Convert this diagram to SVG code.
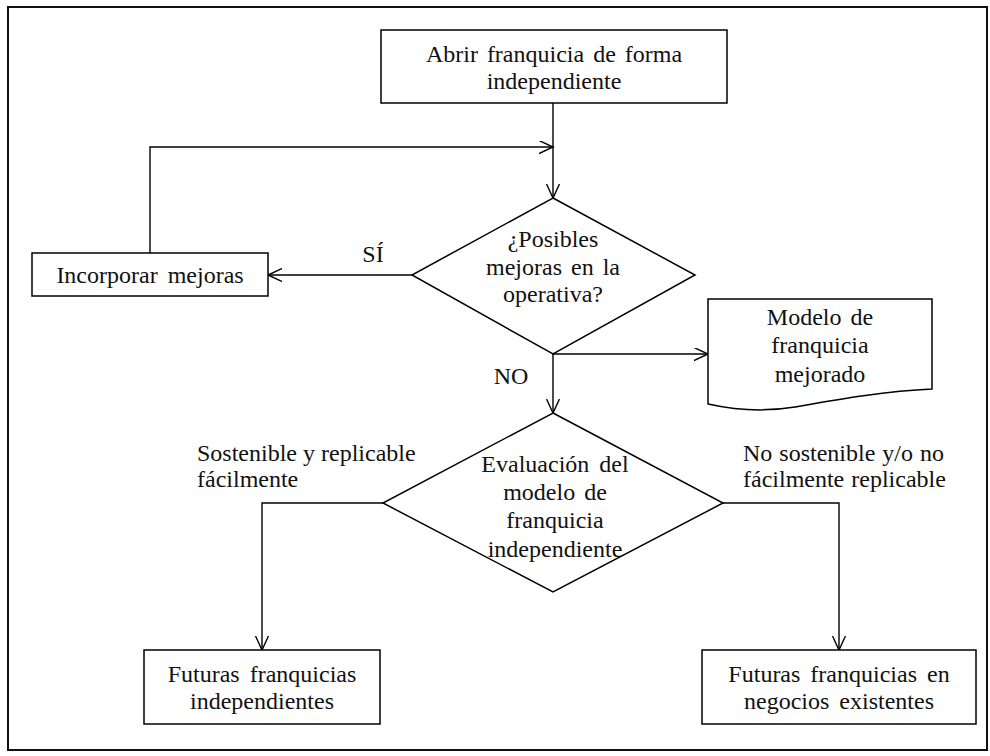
<svg xmlns="http://www.w3.org/2000/svg" width="990" height="756" viewBox="0 0 990 756">
  <style>
    .shape { fill: #ffffff; stroke: #000000; stroke-width: 1.5; }
    .arrow { fill: none; stroke: #000000; stroke-width: 1.4; marker-end: url(#open); }
    .t { font-family: 'Liberation Serif', 'Times New Roman', Times, serif; font-size: 24px; fill: #111111; }
    .c { text-anchor: middle; }
  </style>
  <defs>
    <marker id="open" markerUnits="userSpaceOnUse" markerWidth="16" markerHeight="14" refX="14" refY="6.5" orient="auto">
      <path d="M0,0 L14,6.5 L0,13" fill="none" stroke="#000000" stroke-width="1.4"/>
    </marker>
  </defs>

  <rect width="990" height="756" fill="#ffffff"/>
  <!-- page frame -->
  <rect x="8" y="7" width="979" height="743" fill="none" stroke="#111111" stroke-width="2"/>

  <!-- connectors -->
  <g id="connectors">
    <path class="arrow" d="M553,103 V198"/>
    <path class="arrow" d="M150,253 V147 H553"/>
    <path class="arrow" d="M412,275 H268"/>
    <path class="arrow" d="M553,354 H708"/>
    <path class="arrow" d="M553,354 V413"/>
    <path class="arrow" d="M383,503 H262 V650"/>
    <path class="arrow" d="M723,503 H839 V650"/>
  </g>

  <g font-family="Liberation Serif, Times New Roman, serif" class="t">
    <g id="start">
      <rect class="shape" x="381" y="30" width="346" height="73"/>
      <text class="t c" x="554" y="62" word-spacing="3">Abrir franquicia de forma</text>
      <text class="t c" x="554" y="89">independiente</text>
    </g>

    <g id="decision-mejoras">
      <polygon class="shape" points="553,198 695,275 553,354 412,275"/>
      <text class="t c" x="553" y="247">¿Posibles</text>
      <text class="t c" x="553" y="275" word-spacing="3">mejoras en la</text>
      <text class="t c" x="553" y="302">operativa?</text>
    </g>

    <g id="incorporar">
      <rect class="shape" x="32" y="253" width="236" height="43"/>
      <text class="t c" x="150" y="283" word-spacing="4">Incorporar mejoras</text>
    </g>

    <g id="modelo-mejorado">
      <path class="shape" d="M708,299 H932 V389 C885,391 835,400 795,407 C765,412 735,410 708,404 Z"/>
      <text class="t c" x="820" y="325" word-spacing="3">Modelo de</text>
      <text class="t c" x="820" y="353">franquicia</text>
      <text class="t c" x="820" y="382">mejorado</text>
    </g>

    <g id="decision-evaluacion">
      <polygon class="shape" points="553,413 723,503 553,592 383,503"/>
      <text class="t c" x="555" y="472" word-spacing="4">Evaluación del</text>
      <text class="t c" x="555" y="500" word-spacing="3">modelo de</text>
      <text class="t c" x="555" y="528">franquicia</text>
      <text class="t c" x="555" y="557">independiente</text>
    </g>

    <g id="futuras-independientes">
      <rect class="shape" x="144" y="650" width="236" height="74"/>
      <text class="t c" x="262" y="682" word-spacing="4">Futuras franquicias</text>
      <text class="t c" x="262" y="709">independientes</text>
    </g>

    <g id="futuras-existentes">
      <rect class="shape" x="702" y="650" width="274" height="74"/>
      <text class="t c" x="839" y="682" word-spacing="4">Futuras franquicias en</text>
      <text class="t c" x="839" y="709" word-spacing="4">negocios existentes</text>
    </g>

    <g id="labels">
      <text class="t c" x="373" y="262">SÍ</text>
      <text class="t c" x="511" y="384">NO</text>
      <text class="t" x="197" y="461">Sostenible y replicable</text>
      <text class="t" x="197" y="487">fácilmente</text>
      <text class="t" x="743" y="461" word-spacing="1">No sostenible y/o no</text>
      <text class="t" x="743" y="487" word-spacing="1">fácilmente replicable</text>
    </g>
  </g>
</svg>
